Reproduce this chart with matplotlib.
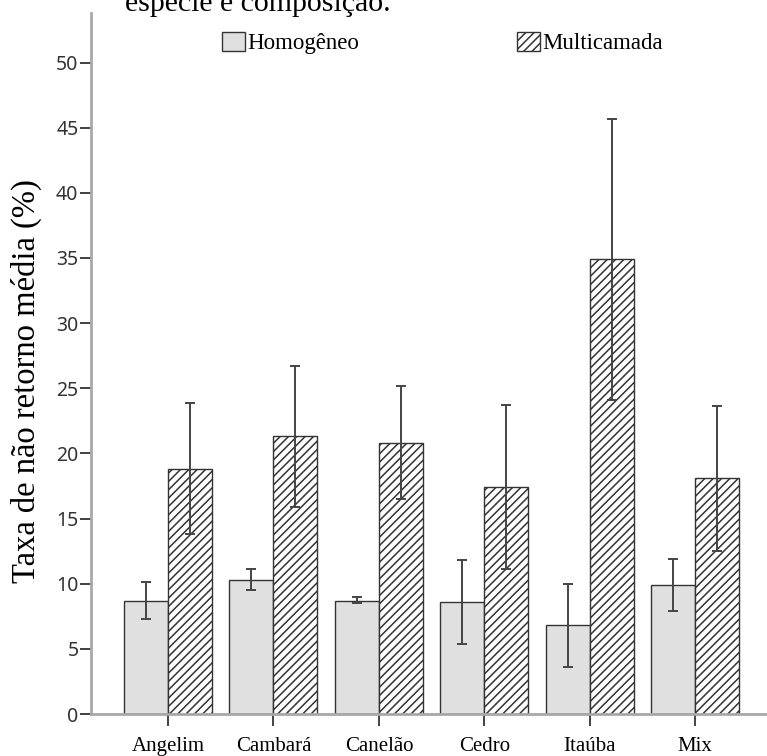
import numpy as np
import matplotlib
matplotlib.use("Agg")
import matplotlib.pyplot as plt

# dados
especies = ["Angelim", "Cambará", "Canelão", "Cedro", "Itaúba", "Mix"]
homogeneo = [8.7, 10.3, 8.7, 8.6, 6.8, 9.9]
homo_inf = [7.3, 9.5, 8.5, 5.4, 3.6, 7.9]
homo_sup = [10.1, 11.1, 9.0, 11.8, 10.0, 11.9]
multicamada = [18.8, 21.3, 20.8, 17.4, 34.9, 18.1]
multi_inf = [13.8, 15.9, 16.5, 11.1, 24.1, 12.5]
multi_sup = [23.9, 26.7, 25.2, 23.7, 45.7, 23.6]
yticks = [0, 5, 10, 15, 20, 25, 30, 35, 40, 45, 50]

plt.rcParams["hatch.linewidth"] = 1.1
plt.rcParams["hatch.color"] = "#222222"

fig = plt.figure(figsize=(7.67, 7.56), dpi=100)
ax = fig.add_axes([91 / 767, 42 / 756, 1 - 91 / 767, (714 - 13) / 756])

x = np.arange(len(especies))
w = 0.417
h = np.array(homogeneo)
m = np.array(multicamada)
herr = [h - np.array(homo_inf), np.array(homo_sup) - h]
merr = [m - np.array(multi_inf), np.array(multi_sup) - m]

ax.bar(x - w / 2, h, w, color="#e0e0e0", edgecolor="#333333",
       linewidth=1.0, label="Homogêneo", zorder=2)
ax.bar(x + w / 2, m, w, color="white", edgecolor="#333333",
       linewidth=1.0, hatch="////", label="Multicamada", zorder=2)
ekw = dict(fmt="none", ecolor="#444444", elinewidth=1.4, capsize=3.6,
           capthick=1.4, zorder=3)
ax.errorbar(x - w / 2, h, yerr=herr, **ekw)
ax.errorbar(x + w / 2, m, yerr=merr, **ekw)

ax.set_xlim(-0.73, 5.68)
ax.set_ylim(0, 53.8)
ax.set_xticks(x)
ax.set_xticklabels(especies, fontfamily="Liberation Serif", fontsize=15)
ax.set_yticks(yticks)
ax.set_yticklabels([str(t) for t in yticks], fontfamily="Noto Sans",
                   fontsize=14, color="#333333")
ax.tick_params(axis="x", length=12 * 0.72, width=1.3, color="#333333", pad=8)
ax.tick_params(axis="y", length=8, width=1.3, color="#333333", pad=1)

for s in ["top", "right"]:
    ax.spines[s].set_visible(False)
for s in ["left", "bottom"]:
    ax.spines[s].set_color("#a8a8a8")
    ax.spines[s].set_linewidth(2)

ax.set_ylabel("Taxa de não retorno média (%)", fontfamily="Liberation Serif",
              fontsize=23.5)
ax.yaxis.set_label_coords(-0.073, 0.475)

ax.legend(loc="upper left", bbox_to_anchor=(222 / 767, 1 - 32 / 756),
          bbox_transform=fig.transFigure, ncol=2, frameon=False,
          borderpad=0, borderaxespad=0, columnspacing=6.86,
          handlelength=1.0, handleheight=0.9, handletextpad=0.12,
          prop={"family": "Liberation Serif", "size": 16.5})

fig.text(125 / 767, 1 - 11 / 756, "espécie e composição.",
         fontfamily="Liberation Serif", fontsize=21.5, va="baseline")

fig.savefig("out.png", dpi=100)
